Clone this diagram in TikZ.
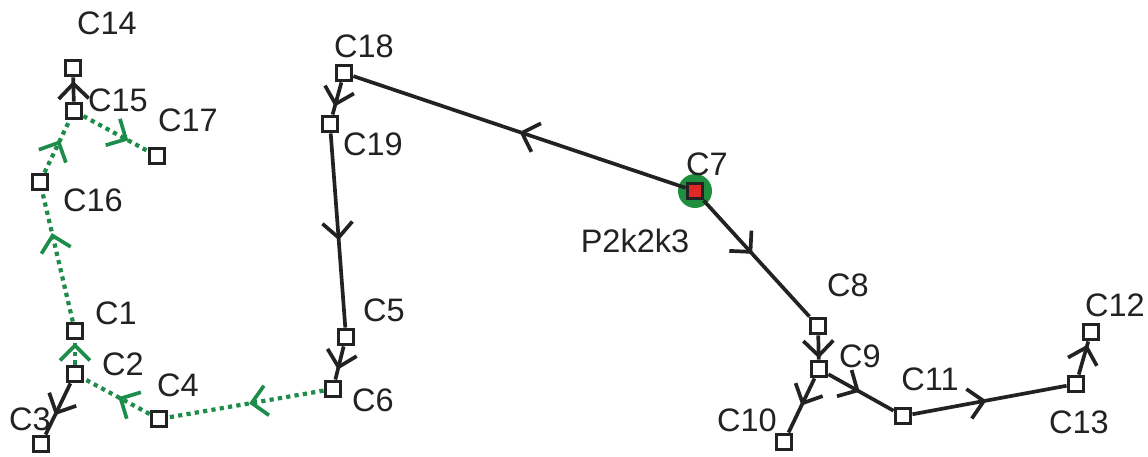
\documentclass[tikz,border=0pt]{standalone}
\usepackage{fontspec}
\setmainfont{Liberation Sans}
\usepackage{xcolor}
\definecolor{cLine}{HTML}{222222}
\definecolor{cPath}{HTML}{1E8C4A}
\definecolor{cHalo}{HTML}{1F8F3F}
\definecolor{cHit}{HTML}{E02828}
\usepackage{tikz}
\usetikzlibrary{arrows.meta,decorations.markings}
\tikzset{
  node-cell/.style={draw=cLine,line width=2.2pt,fill=white,rectangle,
    minimum size=0.3cm,inner sep=0pt},
  node-hit/.style={fill=cHit},
  node-halo/.style={circle,fill=cHalo,minimum size=0.68cm,inner sep=0pt},
  node-tag/.style={text=cLine,inner sep=0pt,font=\fontsize{18.5}{20}\selectfont},
  % open barb placed along the edge
  mid-tip/.style={postaction={decorate},decoration={markings,
    mark=at position #1 with {\arrow{Straight Barb[length=3mm,width=6mm,line width=2.1pt]}}}},
  arrow-main/.style={draw=cLine,line width=2.1pt,mid-tip=#1},
  arrow-main/.default=0.5,
  arrow-route/.style={draw=cPath,line width=2.4pt,dash pattern=on 2.4pt off 2.4pt,
    mid-tip=#1},
  arrow-route/.default=0.5,
}
\begin{document}
\begin{tikzpicture}[x=0.02cm,y=-0.02cm]
  \useasboundingbox (0,0) rectangle (1148,456);
  % cells
  \node[node-cell] (c14) at (73,68) {};
  \node[node-cell] (c15) at (74,111) {};
  \node[node-cell] (c17) at (157,156) {};
  \node[node-cell] (c16) at (40,182) {};
  \node[node-cell] (c1) at (75,331) {};
  \node[node-cell] (c2) at (75,374) {};
  \node[node-cell] (c3) at (41,444) {};
  \node[node-cell] (c4) at (159,419) {};
  \node[node-cell] (c6) at (333,389) {};
  \node[node-cell] (c5) at (346,337) {};
  \node[node-cell] (c19) at (330,124) {};
  \node[node-cell] (c18) at (344,73) {};
  \node[node-halo] (c7halo) at (695,191) {};
  \node[node-cell,node-hit] (c7) at (c7halo) {};
  \node[node-cell] (c8) at (818,326) {};
  \node[node-cell] (c9) at (819,369) {};
  \node[node-cell] (c10) at (784,442) {};
  \node[node-cell] (c11) at (903,416) {};
  \node[node-cell] (c13) at (1076,384) {};
  \node[node-cell] (c12) at (1091,332) {};
  % labels
  \node[node-tag] (t14) at (107,23) {C14};
  \node[node-tag] (t15) at (118,100) {C15};
  \node[node-tag] (t17) at (188,120) {C17};
  \node[node-tag] (t16) at (93,200) {C16};
  \node[node-tag] (t1) at (116,313) {C1};
  \node[node-tag] (t2) at (123,364) {C2};
  \node[node-tag] (t3) at (30,419) {C3};
  \node[node-tag] (t4) at (178,385) {C4};
  \node[node-tag] (t6) at (373,400) {C6};
  \node[node-tag] (t5) at (384,310) {C5};
  \node[node-tag] (t18) at (364,46) {C18};
  \node[node-tag] (t19) at (373,144) {C19};
  \node[node-tag] (t7) at (707,164) {C7};
  \node[node-tag] (tp) at (635,241) {P2k2k3};
  \node[node-tag] (t8) at (848,285) {C8};
  \node[node-tag] (t9) at (860,356) {C9};
  \node[node-tag] (t10) at (747,420) {C10};
  \node[node-tag] (t11) at (930,379) {C11};
  \node[node-tag] (t13) at (1079,422) {C13};
  \node[node-tag] (t12) at (1115,305) {C12};
  % solid edges
  \draw[arrow-main=0.5] (c7) -- (c18);
  \draw[arrow-main=0.75] (c18) -- (c19);
  \draw[arrow-main=0.55] (c19) -- (c5);
  \draw[arrow-main=0.7] (c5) -- (c6);
  \draw[arrow-main=0.46] (c7) -- (c8);
  \draw[arrow-main=0.95] (c8) -- (c9);
  \draw[arrow-main=0.5] (c9) -- (c10);
  \draw[arrow-main=0.48] (c9) -- (c11);
  \draw[arrow-main=0.48] (c11) -- (c13);
  \draw[arrow-main=0.9] (c13) -- (c12);
  \draw[arrow-main=0.62] (c2) -- (c3);
  \draw[arrow-main=0.85] (c15) -- (c14);
  % dotted route
  \draw[arrow-route=0.48] (c6) -- (c4);
  \draw[arrow-route=0.48] (c4) -- (c2);
  \draw[arrow-route=0.9] (c2) -- (c1);
  \draw[arrow-route=0.68] (c1) -- (c16);
  \draw[arrow-route=0.62] (c16) -- (c15);
  \draw[arrow-route=0.7] (c15) -- (c17);
\end{tikzpicture}
\end{document}
